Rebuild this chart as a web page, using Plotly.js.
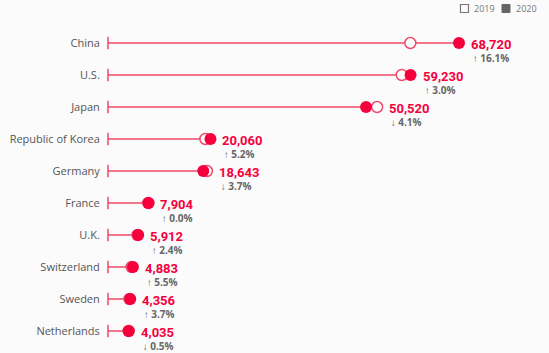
<!DOCTYPE html>
<html>
<head>
<meta charset="utf-8">
<script src="https://cdn.plot.ly/plotly-3.0.1.min.js"></script>
<style>html,body{margin:0;padding:0;background:#fbfbfb;}#chart{width:549px;height:353px;}</style>
</head>
<body>
<div id="chart"></div>
<script>
const countries = ["China","U.S.","Japan","Republic of Korea","Germany","France","U.K.","Switzerland","Sweden","Netherlands"];
const values2019 = [59190, 57505, 52680, 19068, 19359, 7904, 5773, 4628, 4201, 4055];
const values2020 = [68720, 59230, 50520, 20060, 18643, 7904, 5912, 4883, 4356, 4035];
const changes = ["↑ 16.1%","↑ 3.0%","↓ 4.1%","↑ 5.2%","↓ 3.7%","↑ 0.0%","↑ 2.4%","↑ 5.5%","↑ 3.7%","↓ 0.5%"];
const seriesNames = ["2019","2020"];

const red = "#f5003c";
const lineRed = "#ee4a6a";

const lx = [], ly = [];
countries.forEach((c, i) => {
  const end = Math.max(values2019[i], values2020[i]);
  lx.push(0, end, null); ly.push(c, c, null);
});

const traces = [
  {x: lx, y: ly, mode: "lines", line: {color: lineRed, width: 1.5}, hoverinfo: "skip", cliponaxis: false, showlegend: false},
  {x: countries.map(() => 0), y: countries, mode: "markers", marker: {symbol: "line-ns", size: 9, line: {color: lineRed, width: 1.5}}, hoverinfo: "skip", cliponaxis: false, showlegend: false},
  {x: values2019, y: countries, mode: "markers", name: seriesNames[0], marker: {symbol: "circle", size: 11, color: "#ffffff", line: {color: lineRed, width: 1.5}}, cliponaxis: false, showlegend: false},
  {x: values2020, y: countries, mode: "markers", name: seriesNames[1], marker: {symbol: "circle", size: 12, color: red, line: {width: 0}}, cliponaxis: false, showlegend: false}
];

const annotations = [];
countries.forEach((c, i) => {
  const end = Math.max(values2019[i], values2020[i]);
  const txt = '<span style="font-family:Roboto,Arial,sans-serif;font-size:13px;font-weight:bold;color:' + red + '">' + values2020[i].toLocaleString("en-US") + '</span>' +
              '<br><span style="color:#666;font-weight:bold">&#8201;' + changes[i] + '</span>';
  annotations.push({x: end, y: c, xref: "x", yref: "y", text: txt, showarrow: false, xanchor: "left", yanchor: "middle", align: "left", xshift: 11, yshift: -7.5, borderpad: 0, font: {family: "'Open Sans', Arial, sans-serif", size: 10, color: "#666"}});
});

// legend (top right)
const px = p => (p - 108) / 441;
const py = p => (347 - p) / 320;
annotations.push({x: px(472), y: py(8.5), xref: "paper", yref: "paper", text: seriesNames[0], showarrow: false, xanchor: "left", yanchor: "middle", font: {family: "'Open Sans', Arial, sans-serif", size: 9, color: "#777"}});
annotations.push({x: px(514), y: py(8.5), xref: "paper", yref: "paper", text: seriesNames[1], showarrow: false, xanchor: "left", yanchor: "middle", font: {family: "'Open Sans', Arial, sans-serif", size: 9, color: "#777"}});
const shapes = [
  {type: "rect", xref: "paper", yref: "paper", x0: px(460.5), x1: px(468.5), y0: py(12.5), y1: py(4.5), line: {color: "#777", width: 1.2}, fillcolor: "rgba(0,0,0,0)"},
  {type: "rect", xref: "paper", yref: "paper", x0: px(502), x1: px(510), y0: py(12.5), y1: py(4.5), line: {color: "#666", width: 1}, fillcolor: "#666"}
];

const layout = {
  width: 549, height: 353,
  margin: {l: 108, r: 0, t: 27, b: 6},
  paper_bgcolor: "#fbfbfb", plot_bgcolor: "#fbfbfb",
  showlegend: false,
  xaxis: {range: [0, 86335], showgrid: false, zeroline: false, showticklabels: false, showline: false, fixedrange: true},
  yaxis: {type: "category", categoryorder: "array", categoryarray: countries, range: [9.5, -0.5], showgrid: false, zeroline: false, showline: false, ticks: "outside", ticklen: 5, tickcolor: "rgba(0,0,0,0)", tickfont: {family: "'Open Sans', Arial, sans-serif", size: 11, color: "#555"}, fixedrange: true},
  annotations: annotations,
  shapes: shapes
};

Plotly.newPlot("chart", traces, layout, {displayModeBar: false, staticPlot: true});
</script>
</body>
</html>
